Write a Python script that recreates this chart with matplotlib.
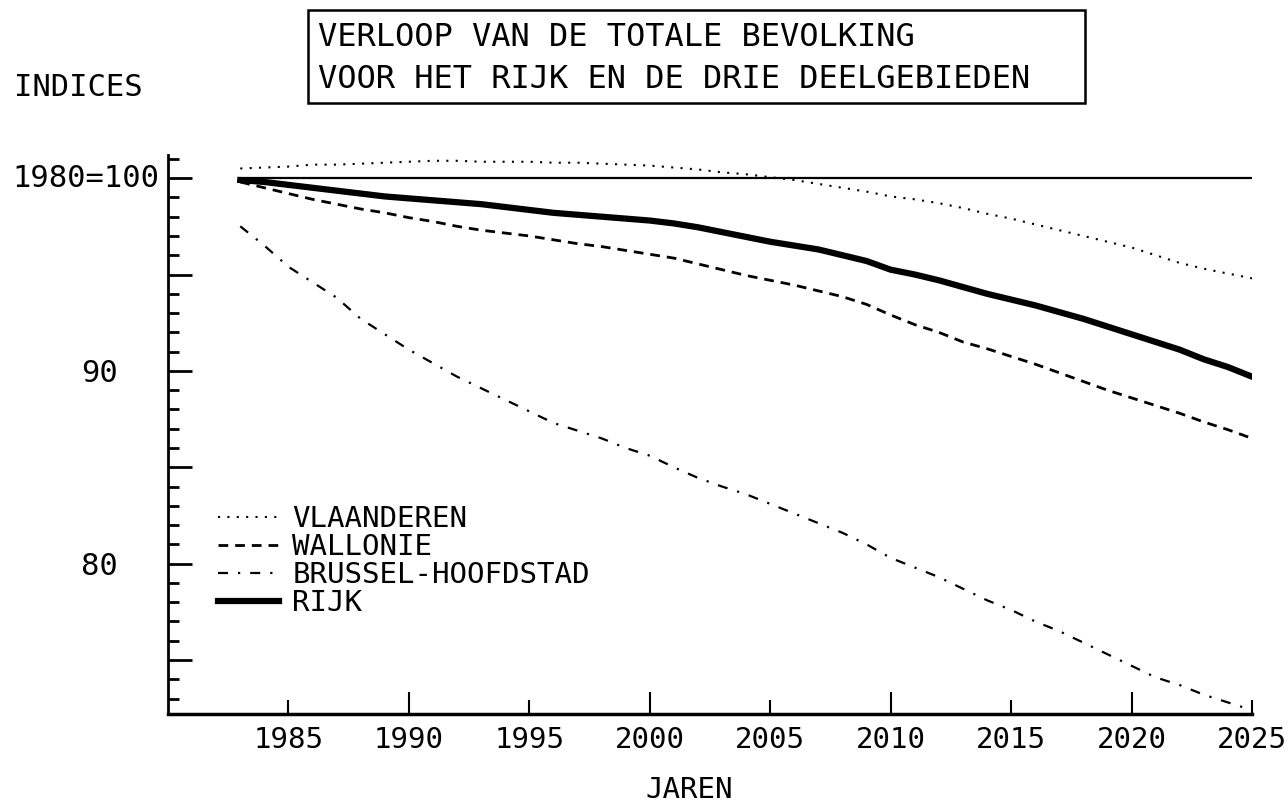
import numpy as np
import matplotlib
matplotlib.use("Agg")
import matplotlib.pyplot as plt
from matplotlib.patches import Rectangle
from matplotlib.ticker import MultipleLocator

# Indexcijfers 1980=100, jaarlijks 1983-2025
jaren = np.arange(1983, 2026)
vlaanderen = [100.5, 100.55, 100.6, 100.7, 100.7, 100.75, 100.8, 100.85, 100.9, 100.9,
              100.85, 100.85, 100.85, 100.8, 100.8, 100.75, 100.7, 100.65, 100.55, 100.45,
              100.3, 100.2, 100.05, 99.9, 99.7, 99.5, 99.3, 99.05, 98.9, 98.7,
              98.45, 98.15, 97.9, 97.6, 97.3, 97.0, 96.7, 96.4, 96.0, 95.6,
              95.3, 95.05, 94.8]
wallonie = [99.8, 99.5, 99.2, 98.9, 98.65, 98.4, 98.2, 97.95, 97.75, 97.5,
            97.3, 97.15, 97.0, 96.8, 96.6, 96.45, 96.25, 96.05, 95.85, 95.55,
            95.25, 94.95, 94.7, 94.45, 94.15, 93.85, 93.45, 92.9, 92.4, 92.0,
            91.5, 91.15, 90.75, 90.35, 89.9, 89.45, 89.0, 88.6, 88.2, 87.8,
            87.35, 86.95, 86.5]
brussel = [97.5, 96.5, 95.4, 94.6, 93.8, 92.7, 91.9, 91.1, 90.4, 89.7,
           89.1, 88.5, 87.9, 87.3, 86.9, 86.5, 86.0, 85.6, 85.0, 84.45,
           84.0, 83.6, 83.1, 82.6, 82.1, 81.6, 81.0, 80.3, 79.8, 79.3,
           78.7, 78.1, 77.6, 77.0, 76.5, 75.9, 75.3, 74.7, 74.1, 73.7,
           73.2, 72.8, 72.4]
rijk = [99.9, 99.8, 99.65, 99.5, 99.35, 99.2, 99.05, 98.95, 98.85, 98.75,
        98.65, 98.5, 98.35, 98.2, 98.1, 98.0, 97.9, 97.8, 97.65, 97.45,
        97.2, 96.95, 96.7, 96.5, 96.3, 96.0, 95.7, 95.25, 95.0, 94.7,
        94.35, 94.0, 93.7, 93.4, 93.05, 92.7, 92.3, 91.9, 91.5, 91.1,
        90.6, 90.2, 89.7]
basis = 100

x_major = [1990, 2000, 2010, 2020]
x_minor = [1985, 1995, 2005, 2015, 2025]
y_major = [75, 80, 85, 90, 95, 100]
y_labels = ["", "80", "", "90", "", ""]

plt.rcParams["font.family"] = "DejaVu Sans Mono"
fs = 21
W, H = 1288, 810

fig = plt.figure(figsize=(W / 100, H / 100), dpi=100)
ax = fig.add_axes([168 / W, 96 / H, (1252 - 168) / W, (714 - 155) / H])

ax.hlines(basis, jaren[0], jaren[-1], color="black", lw=1.6)
ax.plot(jaren, vlaanderen, color="black", lw=1.5, ls=(0, (1, 3.5)), label="VLAANDEREN")
ax.plot(jaren, wallonie, color="black", lw=2, ls=(0, (3.5, 2.5)), label="WALLONIE")
ax.plot(jaren, brussel, color="black", lw=1.6, ls=(0, (4.5, 4.5, 1, 4.5)),
        label="BRUSSEL-HOOFDSTAD")
ax.plot(jaren, rijk, color="black", lw=4.5, label="RIJK")

ax.set_xlim(1980, 2025)
ax.set_ylim(72.2, 101.2)

for s in ["top", "right"]:
    ax.spines[s].set_visible(False)
ax.spines["left"].set_linewidth(2)
ax.spines["bottom"].set_linewidth(2.5)

ax.set_yticks(y_major, labels=y_labels)
ax.yaxis.set_minor_locator(MultipleLocator(1))
ax.tick_params(axis="y", which="major", direction="in", length=17, width=2,
               pad=36, labelsize=22)
ax.tick_params(axis="y", which="minor", direction="in", length=8, width=2)

ax.set_xticks(x_major, labels=[str(j) for j in x_major])
ax.set_xticks(x_minor, labels=[str(j) for j in x_minor], minor=True)
ax.tick_params(axis="x", which="major", direction="in", length=16, width=1.5,
               pad=9, labelsize=fs)
ax.tick_params(axis="x", which="minor", direction="in", length=10, width=1.5,
               pad=9, labelsize=fs)

ax.annotate("1980=100", xy=(0, basis), xycoords=("axes fraction", "data"),
            xytext=(-6, 0), textcoords="offset points", ha="right", va="center",
            fontsize=22)

ax.legend(loc="upper left", bbox_to_anchor=(0.046, 0.374), frameon=False,
          fontsize=fs, handlelength=2.1, handletextpad=0.45, labelspacing=0.0,
          borderpad=0, borderaxespad=0)

fig.text(14 / W, 1 - 87 / H, "INDICES", fontsize=22, ha="left", va="center")
fig.text(689 / W, 1 - 790 / H, "JAREN", fontsize=fs, ha="center", va="center")

fig.patches.append(Rectangle((308 / W, 1 - 103 / H), (1085 - 308) / W, 93 / H,
                             transform=fig.transFigure, fill=False,
                             edgecolor="black", lw=1.8))
fig.text(318 / W, 1 - 37 / H, "VERLOOP VAN DE TOTALE BEVOLKING", fontsize=23,
         ha="left", va="center")
fig.text(318 / W, 1 - 79 / H, "VOOR HET RIJK EN DE DRIE DEELGEBIEDEN", fontsize=23,
         ha="left", va="center")

fig.savefig("out.png", dpi=100, facecolor="white")
